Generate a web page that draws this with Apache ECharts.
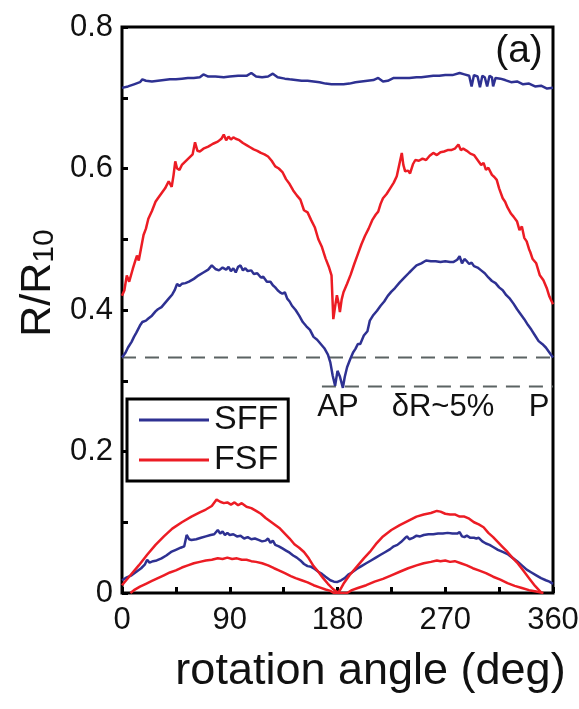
<!DOCTYPE html>
<html>
<head>
<meta charset="utf-8">
<script src="https://cdn.jsdelivr.net/npm/echarts@6/dist/echarts.min.js"></script>
<style>
html,body{margin:0;padding:0;background:#fff;}
#chart{width:579px;height:709px;}
</style>
</head>
<body>
<div id="chart"></div>
<script>
// ---- data: [rotation angle (deg), R/R10] ----
const sffTop = [[0,0.714],[5,0.716],[10,0.719],[15,0.722],[17,0.726],[20,0.724],[25,0.723],[30,0.724],[35,0.725],[40,0.726],[45,0.726],[50,0.727],[55,0.728],[60,0.728],[65,0.729],[68,0.733],[72,0.730],[78,0.730],[85,0.729],[90,0.730],[97,0.731],[104,0.731],[108,0.735],[112,0.730],[117,0.729],[122,0.730],[126,0.734],[130,0.729],[136,0.727],[140,0.726],[145,0.725],[150,0.724],[155,0.724],[160,0.723],[165,0.722],[170,0.720],[175,0.719],[180,0.719],[185,0.719],[190,0.720],[195,0.722],[200,0.723],[205,0.724],[210,0.725],[214,0.728],[218,0.723],[222,0.724],[227,0.728],[235,0.728],[240,0.728],[246,0.729],[250,0.729],[255,0.730],[260,0.731],[265,0.731],[270,0.732],[276,0.732],[282,0.735],[286,0.733],[290,0.731],[292,0.716],[294,0.732],[297,0.730],[299,0.715],[301,0.731],[303,0.729],[305,0.716],[307,0.731],[309,0.729],[310,0.716],[312,0.728],[316,0.727],[320,0.725],[325,0.722],[330,0.723],[335,0.719],[340,0.720],[345,0.716],[350,0.717],[355,0.713],[360,0.714]];

const sffMid = [[0,0.333],[3,0.340],[5,0.347],[8,0.355],[10,0.362],[12,0.368],[15,0.378],[17,0.383],[20,0.385],[22,0.388],[25,0.392],[28,0.398],[30,0.401],[33,0.404],[36,0.410],[39,0.416],[42,0.422],[44,0.428],[46,0.437],[48,0.434],[50,0.437],[53,0.438],[56,0.440],[60,0.444],[64,0.449],[68,0.453],[72,0.457],[75,0.463],[78,0.458],[81,0.456],[84,0.460],[87,0.457],[89,0.461],[91,0.455],[93,0.459],[95,0.453],[97,0.461],[99,0.463],[101,0.456],[103,0.459],[105,0.455],[108,0.456],[110,0.451],[113,0.452],[116,0.446],[118,0.447],[121,0.440],[124,0.440],[126,0.435],[128,0.432],[130,0.428],[132,0.425],[134,0.423],[136,0.425],[138,0.416],[140,0.412],[142,0.406],[145,0.400],[148,0.392],[151,0.383],[154,0.377],[157,0.372],[160,0.362],[163,0.358],[166,0.352],[169,0.346],[172,0.337],[174,0.326],[176,0.307],[178,0.293],[180,0.314],[182,0.306],[184.5,0.290],[186,0.305],[188,0.319],[190.5,0.330],[193,0.340],[195,0.345],[197,0.352],[199,0.352],[202,0.364],[205,0.370],[207,0.385],[210,0.393],[213,0.399],[216,0.406],[219,0.412],[222,0.420],[225,0.426],[228,0.431],[232,0.439],[236,0.446],[240,0.453],[243,0.458],[246,0.463],[250,0.466],[254,0.470],[258,0.469],[262,0.469],[266,0.468],[270,0.469],[274,0.468],[277,0.468],[280,0.471],[282,0.476],[284,0.466],[286,0.472],[288,0.469],[290,0.465],[292,0.467],[294,0.462],[297,0.460],[300,0.456],[303,0.452],[306,0.446],[309,0.441],[312,0.438],[315,0.432],[318,0.428],[321,0.421],[324,0.416],[327,0.409],[330,0.401],[333,0.394],[336,0.387],[339,0.379],[342,0.372],[345,0.364],[348,0.356],[351,0.352],[354,0.347],[357,0.340],[360,0.333]];

const sffLow = [[0,0.018],[4,0.022],[8,0.025],[12,0.030],[16,0.035],[19,0.040],[21,0.047],[23,0.043],[26,0.045],[29,0.046],[33,0.049],[37,0.053],[41,0.058],[45,0.061],[49,0.064],[52,0.066],[54,0.082],[56,0.076],[58,0.075],[62,0.076],[66,0.078],[70,0.080],[74,0.082],[77,0.083],[80,0.089],[82,0.084],[84,0.087],[86,0.082],[88,0.085],[90,0.082],[93,0.083],[96,0.080],[99,0.081],[102,0.077],[105,0.079],[108,0.076],[111,0.077],[114,0.075],[117,0.073],[120,0.074],[122,0.077],[124,0.071],[126,0.074],[128,0.068],[131,0.066],[134,0.063],[137,0.060],[140,0.057],[143,0.053],[146,0.050],[149,0.046],[152,0.041],[155,0.038],[158,0.037],[161,0.034],[164,0.030],[167,0.027],[170,0.023],[174,0.018],[177,0.016],[180,0.0156],[183,0.018],[186,0.021],[189,0.026],[192,0.029],[196,0.034],[200,0.038],[204,0.042],[208,0.046],[212,0.050],[216,0.054],[220,0.058],[224,0.062],[227,0.066],[230,0.068],[233,0.072],[236,0.077],[238,0.080],[240,0.076],[243,0.078],[246,0.081],[249,0.080],[252,0.082],[256,0.083],[260,0.083],[264,0.084],[268,0.084],[272,0.085],[276,0.084],[280,0.084],[282,0.086],[284,0.080],[286,0.079],[288,0.081],[291,0.078],[294,0.078],[296,0.077],[298,0.078],[301,0.073],[304,0.070],[307,0.068],[310,0.065],[314,0.061],[318,0.058],[322,0.055],[326,0.050],[330,0.045],[334,0.039],[338,0.033],[342,0.029],[346,0.025],[350,0.021],[354,0.018],[357,0.016],[360,0.013]];

const fsfMid = [[0,0.420],[2,0.428],[4,0.449],[6,0.440],[7,0.442],[9,0.458],[11,0.469],[12.5,0.477],[14,0.470],[16,0.488],[18,0.506],[20,0.515],[22,0.529],[25,0.540],[28,0.553],[30,0.558],[33,0.565],[36,0.572],[39,0.582],[41.5,0.574],[43,0.590],[44.5,0.610],[46,0.600],[48,0.598],[50,0.605],[53,0.610],[56,0.615],[59,0.620],[61,0.637],[63,0.625],[65,0.624],[68,0.628],[72,0.631],[76,0.635],[80,0.638],[83,0.642],[85,0.648],[87,0.640],[89,0.645],[91,0.641],[93,0.644],[95,0.642],[98,0.640],[101,0.636],[104,0.633],[107,0.630],[110,0.627],[113,0.625],[116,0.622],[119,0.620],[122,0.617],[125,0.611],[128,0.603],[131,0.600],[134,0.595],[137,0.585],[140,0.578],[143,0.569],[146,0.562],[149,0.556],[152,0.541],[155,0.538],[158,0.527],[161,0.517],[164,0.500],[167,0.489],[170,0.473],[173,0.460],[175,0.449],[176.5,0.387],[178,0.405],[179.5,0.421],[181,0.409],[182,0.397],[183.5,0.415],[185,0.425],[188,0.437],[191,0.450],[194,0.465],[197,0.479],[200,0.493],[203,0.505],[206,0.515],[209,0.527],[212,0.535],[214,0.539],[216,0.550],[218,0.558],[221,0.564],[224,0.572],[227,0.580],[229.5,0.589],[231,0.590],[233.7,0.622],[235,0.605],[236.5,0.596],[239,0.597],[240.6,0.593],[243,0.606],[245,0.612],[248,0.611],[251,0.614],[254,0.612],[257,0.618],[260,0.622],[263,0.619],[266,0.623],[269,0.624],[272,0.626],[275,0.626],[278,0.628],[281,0.634],[283,0.626],[285,0.628],[288,0.625],[291,0.621],[294,0.619],[297,0.612],[300,0.605],[302,0.608],[304,0.598],[306,0.601],[309,0.591],[311,0.588],[313,0.584],[315,0.572],[318,0.558],[320,0.553],[322,0.545],[325,0.536],[327,0.532],[330,0.525],[332,0.513],[334,0.518],[336,0.502],[338,0.497],[340,0.486],[341,0.482],[343,0.472],[346,0.466],[349,0.449],[352,0.442],[355,0.430],[357,0.419],[360,0.408]];

const fsfLowOuter = [[0,0.011],[7,0.025],[14,0.039],[21,0.054],[28,0.068],[35,0.080],[42,0.091],[50,0.100],[58,0.108],[65,0.114],[70,0.118],[75,0.123],[79,0.132],[82,0.129],[85,0.127],[88,0.128],[91,0.125],[94,0.128],[97,0.124],[100,0.127],[104,0.122],[108,0.120],[112,0.116],[116,0.112],[120,0.106],[124,0.101],[128,0.096],[132,0.091],[136,0.084],[140,0.077],[144,0.069],[148,0.064],[152,0.058],[156,0.049],[160,0.038],[164,0.030],[168,0.021],[172,0.013],[176,0.006],[179,0.002],[181,0.001],[185,0.013],[190,0.025],[196,0.037],[202,0.049],[207,0.058],[212,0.069],[218,0.080],[225,0.089],[232,0.096],[239,0.102],[246,0.108],[252,0.111],[258,0.113],[263,0.116],[266,0.115],[270,0.112],[274,0.111],[278,0.111],[282,0.108],[286,0.108],[290,0.105],[294,0.100],[298,0.097],[302,0.093],[306,0.085],[310,0.079],[314,0.072],[318,0.065],[322,0.058],[326,0.050],[330,0.043],[335,0.032],[340,0.021],[345,0.010],[350,0.001]];

const fsfLowInner = [[7,0.000],[10,0.004],[15,0.009],[20,0.013],[25,0.017],[30,0.021],[35,0.025],[40,0.029],[45,0.032],[50,0.036],[55,0.039],[60,0.042],[65,0.044],[70,0.046],[75,0.047],[80,0.049],[84,0.048],[88,0.050],[92,0.048],[96,0.049],[100,0.047],[104,0.047],[108,0.045],[112,0.044],[117,0.042],[122,0.039],[127,0.035],[131,0.032],[136,0.028],[141,0.024],[145,0.021],[150,0.018],[155,0.015],[160,0.011],[165,0.008],[170,0.005],[174,0.003],[177,0.000],[188,0.000],[192,0.004],[197,0.007],[204,0.011],[211,0.016],[218,0.020],[225,0.025],[232,0.030],[239,0.035],[246,0.039],[252,0.042],[258,0.044],[263,0.046],[266,0.045],[270,0.046],[274,0.044],[278,0.045],[283,0.042],[288,0.039],[293,0.035],[298,0.032],[304,0.028],[310,0.023],[316,0.019],[322,0.014],[328,0.010],[334,0.007],[340,0.004],[346,0.002],[352,0.000]];

// reference levels (dashed lines)
const levelP = [[0,0.333],[360,0.333]];
const levelAP = [[167,0.292],[360,0.292]];

// axis ticks / labels
const xTicks = [0,45,90,135,180,225,270,315,360];
const xTickLabels = ['0','','90','','180','','270','','360'];
const yTickLabels = ['0','','0.2','','0.4','','0.6','','0.8'];
const legendNames = ['SFF','FSF'];
const annotations = ['AP','δR~5%','P','(a)'];

const BLUE = '#2e3192';
const RED = '#ec1c24';
const FONT = 'Liberation Sans';

function lineSeries(name, data, color){
  return {
    name: name, type: 'line', data: data, symbol: 'none', showSymbol: false,
    smooth: false, silent: true, animation: false,
    lineStyle: {color: color, width: 2.5}, itemStyle: {color: color}, z: 3
  };
}
function dashSeries(data){
  return {
    type: 'line', data: data, symbol: 'none', silent: true, animation: false,
    lineStyle: {color: '#5b6363', width: 2, type: [14, 9]}, z: 2
  };
}

const chart = echarts.init(document.getElementById('chart'), null, {renderer: 'canvas'});
chart.setOption({
  animation: false,
  backgroundColor: '#ffffff',
  grid: {left: 122, right: 26, top: 27, bottom: 116, show: true,
         borderColor: '#000', borderWidth: 3, backgroundColor: 'transparent',
         containLabel: false, outerBoundsMode: 'none'},
  legend: {
    data: legendNames, orient: 'vertical', left: 127, top: 399,
    icon: 'rect', itemWidth: 70, itemHeight: 3, itemGap: 6,
    padding: [4, 10, 4, 12], borderColor: '#000', borderWidth: 3,
    backgroundColor: '#fff',
    textStyle: {fontFamily: FONT, fontSize: 34, color: '#111'},
    selectedMode: false
  },
  xAxis: {
    type: 'value', min: 0, max: 360, interval: 45,
    name: 'rotation angle (deg)', nameLocation: 'middle', nameGap: 56,
    nameMoveOverlap: false,
    nameTextStyle: {fontFamily: FONT, fontSize: 45, color: '#111', padding: [0, 0, 0, 66]},
    axisLine: {show: false},
    axisTick: {show: true, inside: true, length: 6, lineStyle: {color: '#000', width: 3}},
    axisLabel: {show: true, margin: 12, fontFamily: FONT, fontSize: 31, color: '#111',
      formatter: function(v){ const i = xTicks.indexOf(Math.round(v)); return i >= 0 ? xTickLabels[i] : ''; }},
    splitLine: {show: false}
  },
  yAxis: {
    type: 'value', min: 0, max: 0.8, interval: 0.1,
    name: '{m|R/R}{s|10}', nameLocation: 'middle', nameGap: 62, nameRotate: 90,
    nameMoveOverlap: false,
    nameTextStyle: {fontFamily: FONT, color: '#111', padding: [0, 0, 0, 54],
      rich: {
        m: {fontFamily: FONT, fontSize: 43, lineHeight: 43, color: '#111', verticalAlign: 'top'},
        s: {fontFamily: FONT, fontSize: 30, lineHeight: 30, color: '#111', verticalAlign: 'bottom', padding: [22, 0, 0, 0]}
      }},
    axisLine: {show: false},
    axisTick: {show: true, inside: true, length: 6, lineStyle: {color: '#000', width: 3}},
    axisLabel: {show: true, margin: 9, fontFamily: FONT, fontSize: 31, color: '#111',
      formatter: function(v){ const i = Math.round(v * 10); return yTickLabels[i] || ''; }},
    splitLine: {show: false}
  },
  graphic: [
    {type: 'text', x: 338, y: 407, style: {text: annotations[0], font: '31px "Liberation Sans"', fill: '#111', align: 'center', verticalAlign: 'middle'}, z: 10},
    {type: 'text', x: 443, y: 407, style: {text: annotations[1], font: '31px "Liberation Sans"', fill: '#111', align: 'center', verticalAlign: 'middle'}, z: 10},
    {type: 'text', x: 539, y: 407, style: {text: annotations[2], font: '31px "Liberation Sans"', fill: '#111', align: 'center', verticalAlign: 'middle'}, z: 10},
    {type: 'text', x: 519, y: 51, style: {text: annotations[3], font: '39px "Liberation Sans"', fill: '#111', align: 'center', verticalAlign: 'middle'}, z: 10}
  ],
  series: [
    dashSeries(levelP),
    dashSeries(levelAP),
    lineSeries('SFF', sffTop, BLUE),
    lineSeries('SFF', sffMid, BLUE),
    lineSeries('SFF', sffLow, BLUE),
    lineSeries('FSF', fsfMid, RED),
    lineSeries('FSF', fsfLowOuter, RED),
    lineSeries('FSF', fsfLowInner, RED)
  ]
});
</script>
</body>
</html>
